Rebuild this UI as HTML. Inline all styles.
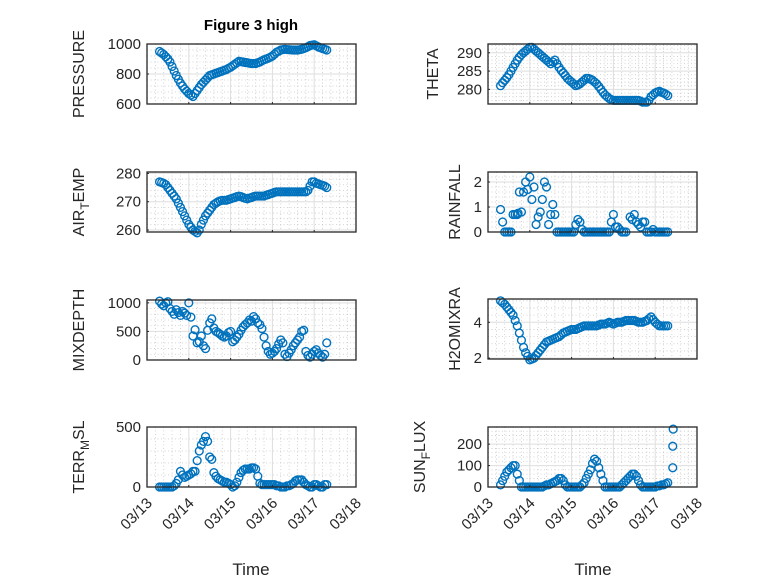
<!DOCTYPE html>
<html><head><meta charset="utf-8"><style>
body{margin:0;background:#fff}
svg{display:block;font-family:"Liberation Sans","DejaVu Sans",sans-serif}
</style></head><body>
<svg id="fig" width="778" height="583" viewBox="0 0 778 583">
<text x="251" y="30" text-anchor="middle" font-size="15" font-weight="bold" fill="#000">Figure 3 high</text>
<text x="251" y="575" text-anchor="middle" font-size="17" fill="#262626">Time</text>
<text x="593" y="575" text-anchor="middle" font-size="17" fill="#262626">Time</text>
</svg>
<script>
// time grid (days since 03/13)
const tStart = 0.3;
const dayLabels = ["03/13","03/14","03/15","03/16","03/17","03/18"];
const pressureVals = [950,940,930,915,900,880,850,820,790,765,740,720,700,685,670,660,650,670,690,710,730,745,760,775,790,795,800,805,810,815,820,825,830,838,845,855,865,875,885,882,880,877,875,872,870,870,870,875,880,888,895,900,905,912,920,932,945,952,960,963,965,963,962,961,960,960,960,962,965,970,975,982,990,993,995,988,980,975,970,965,960];
const airTempVals = [277,276.8,276.5,276,275,274,273,272,271,269.5,268,266.5,265,263.5,262,261,260,259.5,259,260,262,263.5,265,266,267,268,269,269.5,270,270.3,270.5,270.5,270.5,270.8,271,271.3,271.5,271.8,272,271.8,271.5,271.2,271,271.3,271.5,271.8,272,272,272,272,272,272.3,272.5,272.8,273,273.3,273.5,273.5,273.5,273.5,273.5,273.5,273.5,273.5,273.5,273.5,273.5,273.5,273.5,273.5,273.5,274,275.5,277,277,276.5,276.3,276,275.8,275.5,275];
const mixDepthVals = [1030,980,950,1000,1020,900,850,800,880,830,780,850,820,780,1000,750,420,530,300,320,420,250,200,520,650,720,560,500,480,450,420,400,420,480,500,320,350,400,450,520,580,620,650,700,680,760,720,650,620,550,400,250,150,100,120,150,200,280,350,300,100,60,120,180,250,300,350,400,500,520,150,80,50,100,150,180,120,80,50,100,300];
const terrVals = [0,0,0,0,0,0,0,10,30,60,130,100,80,90,100,110,130,130,220,300,350,380,420,380,250,230,120,90,70,60,50,40,40,30,20,0,10,40,80,120,140,150,150,150,160,160,150,90,30,20,20,20,20,20,20,20,10,10,0,0,0,10,10,20,30,50,60,60,60,40,20,10,0,0,20,20,10,0,0,20,20];
const thetaVals = [281,281.8,282.5,283.2,284,285,286,287,288,288.8,289.5,290,290.5,291,291.5,291.5,291,290.5,290,289.5,289,288.5,288,287.5,287,287.5,288,287,286,285.2,284.5,283.8,283,282.5,282,281.5,281,281.2,281.5,282,282.5,283,283,282.8,282.5,282,281.5,280.8,280,279.2,278.5,278,277.5,277.2,277,277,277,277,277,277,277,277,277,277,277,277,277,276.8,276.5,276.5,276.5,277,278,278.5,279,279.3,279.5,279.2,279,278.7,278.3];
const h2oVals = [5.2,5.1,5.0,4.85,4.7,4.55,4.4,4.1,3.8,3.4,3.0,2.6,2.3,2.1,1.9,1.95,2.0,2.15,2.3,2.45,2.6,2.75,2.9,2.95,3.0,3.05,3.1,3.15,3.2,3.3,3.4,3.45,3.5,3.55,3.6,3.6,3.6,3.65,3.7,3.75,3.8,3.8,3.8,3.8,3.8,3.8,3.8,3.85,3.9,3.9,3.9,3.95,4.0,3.95,3.9,3.95,4.0,4.0,4.0,4.05,4.1,4.1,4.1,4.1,4.1,4.05,4.0,4.0,4.0,4.05,4.1,4.2,4.3,4.15,4.0,3.9,3.8,3.8,3.8,3.8,3.8];
const sunVals = [10,30,50,70,80,90,100,100,60,30,0,0,0,0,0,0,0,0,0,0,0,5,10,10,15,20,25,30,40,40,30,10,0,0,0,0,0,0,0,10,20,40,60,80,110,130,120,90,60,30,0,0,0,0,0,0,0,0,10,20,30,40,50,60,60,50,30,10,0,0,0,0,0,0,0,5,5,10,10,15,20];
const sunExtraT = [4.42,4.42,4.43];
const sunExtraV = [90,190,270];
const rainT = [0.3,0.35,0.4,0.45,0.5,0.55,0.6,0.65,0.7,0.72,0.75,0.8,0.85,0.9,0.95,1.0,1.05,1.1,1.15,1.2,1.25,1.3,1.35,1.4,1.45,1.5,1.55,1.6,1.65,1.7,1.75,1.8,1.85,1.9,1.95,2.0,2.05,2.1,2.15,2.2,2.25,2.3,2.35,2.4,2.45,2.5,2.55,2.6,2.65,2.7,2.75,2.8,2.85,2.9,2.95,3.0,3.05,3.1,3.15,3.2,3.25,3.3,3.4,3.45,3.5,3.55,3.6,3.65,3.7,3.75,3.8,3.85,3.9,3.95,4.0,4.05,4.1,4.15,4.2,4.25,4.3];
const rainV = [0.9,0.4,0,0,0,0,0.7,0.7,0.7,0.75,1.6,0.8,1.6,2.0,1.7,2.2,1.3,1.8,0.3,0.6,0.8,1.3,2.0,1.8,0.3,0.7,1.1,0.7,0,0,0,0,0,0,0,0,0,0.3,0.5,0.4,0.1,0,0,0,0,0,0,0,0,0,0,0,0,0,0.4,0.7,0.2,0.2,0.1,0,0,0,0.6,0.5,0.7,0.4,0.3,0.2,0.4,0.4,0,0,0,0.1,0,0,0,0,0,0,0];

const NS = "http://www.w3.org/2000/svg";
const svg = document.getElementById("fig");
function mk(tag, attrs, parent){const e=document.createElementNS(NS,tag);for(const k in attrs)e.setAttribute(k,attrs[k]);(parent||svg).appendChild(e);return e;}
function seq(vals){const step=4.0/(vals.length-1);return vals.map((v,i)=>tStart+i*step);}

const panels = [
 {name:"pressure",x0:147,y0:44,ymin:600,ymax:1000,yt:[600,800,1000],t:seq(pressureVals),v:pressureVals,lab:["PRESSURE"],lx:84},
 {name:"air-temp",x0:147,y0:172,ymin:259.3,ymax:280.5,yt:[260,270,280],t:seq(airTempVals),v:airTempVals,lab:["AIR","T","EMP"],lx:84},
 {name:"mixdepth",x0:147,y0:300,ymin:0,ymax:1050,yt:[0,500,1000],t:seq(mixDepthVals),v:mixDepthVals,lab:["MIXDEPTH"],lx:84},
 {name:"terr-msl",x0:147,y0:427,ymin:0,ymax:500,yt:[0,500],t:seq(terrVals),v:terrVals,lab:["TERR","M","SL"],lx:84},
 {name:"theta",x0:488,y0:44,ymin:276,ymax:292.4,yt:[280,285,290],t:seq(thetaVals),v:thetaVals,lab:["THETA"],lx:438},
 {name:"rainfall",x0:488,y0:172,ymin:0,ymax:2.4,yt:[0,1,2],t:rainT,v:rainV,lab:["RAINFALL"],lx:460},
 {name:"h2omixra",x0:488,y0:299,ymin:1.95,ymax:5.3,yt:[2,4],t:seq(h2oVals),v:h2oVals,lab:["H2OMIXRA"],lx:460},
 {name:"sun-flux",x0:488,y0:427,ymin:0,ymax:280,yt:[0,100,200],t:seq(sunVals).concat(sunExtraT),v:sunVals.concat(sunExtraV),lab:["SUN","F","LUX"],lx:425}
];
const W=209,H=60,dayPx=W/5;

panels.forEach((p,pi)=>{
  const g=mk("g",{});
  
  
  const X=t=>p.x0+t*dayPx;
  const Y=v=>p.y0+H-(v-p.ymin)/(p.ymax-p.ymin)*H;
  mk("rect",{x:p.x0,y:p.y0,width:W,height:H,fill:"#fff"},g);
  for(let d=0;d<5;d++)for(let k=1;k<5;k++){const x=X(d+k/5);mk("line",{x1:x,x2:x,y1:p.y0,y2:p.y0+H,stroke:"#c8c8c8","stroke-width":0.8,"stroke-dasharray":"1 2.5"},g);}
  const ys=p.yt, step=ys.length>1?ys[1]-ys[0]:p.ymax-p.ymin;
  for(let v=ys[0]-step;v<=p.ymax+1e-9;v+=step/5){if(v>=p.ymin&&Math.abs((v-ys[0])/step-Math.round((v-ys[0])/step))>1e-6){const y=Y(v);mk("line",{x1:p.x0,x2:p.x0+W,y1:y,y2:y,stroke:"#c8c8c8","stroke-width":0.8,"stroke-dasharray":"1 2.5"},g);}}
  for(let d=1;d<5;d++){const x=X(d);mk("line",{x1:x,x2:x,y1:p.y0,y2:p.y0+H,stroke:"#dedede","stroke-width":1},g);}
  p.yt.forEach(v=>{const y=Y(v);mk("line",{x1:p.x0,x2:p.x0+W,y1:y,y2:y,stroke:"#dedede","stroke-width":1},g);
    const tl=mk("text",{x:p.x0-6,y:y+5,"text-anchor":"end","font-size":15,fill:"#262626"},g);tl.textContent=v;
    
    
    mk("line",{x1:p.x0,x2:p.x0+2,y1:y,y2:y,stroke:"#262626"},g);});
  p.t.forEach((t,i)=>{const c=mk("circle",{cx:X(t),cy:Y(p.v[i]),r:3.9,fill:"none",stroke:"#0072BD","stroke-width":1.4},g);
    
    });
  mk("rect",{x:p.x0,y:p.y0,width:W,height:H,fill:"none",stroke:"#262626","stroke-width":1.3},g);
  for(let d=0;d<=5;d++){const x=X(d);mk("line",{x1:x,x2:x,y1:p.y0+H,y2:p.y0+H-2,stroke:"#262626"},g);}
  const cy=p.y0+H/2;
  const lt=mk("text",{transform:`translate(${p.lx},${cy}) rotate(-90)`,"text-anchor":"middle","font-size":16,fill:"#262626"},g);
  
  
  if(p.lab.length===1){lt.textContent=p.lab[0];}
  else{const a=mk("tspan",{},lt);a.textContent=p.lab[0];
    const b=mk("tspan",{dy:5,"font-size":12},lt);b.textContent=p.lab[1];
    const c=mk("tspan",{dy:-5},lt);c.textContent=p.lab[2];}
  if(pi===3||pi===7){dayLabels.forEach((s,d)=>{const x=X(d);
    const tx=mk("text",{transform:`translate(${x+6},${p.y0+H+17}) rotate(-45)`,"text-anchor":"end","font-size":15,fill:"#262626"},g);
    tx.textContent=s;
    
    });}
});
</script>
</body></html>
